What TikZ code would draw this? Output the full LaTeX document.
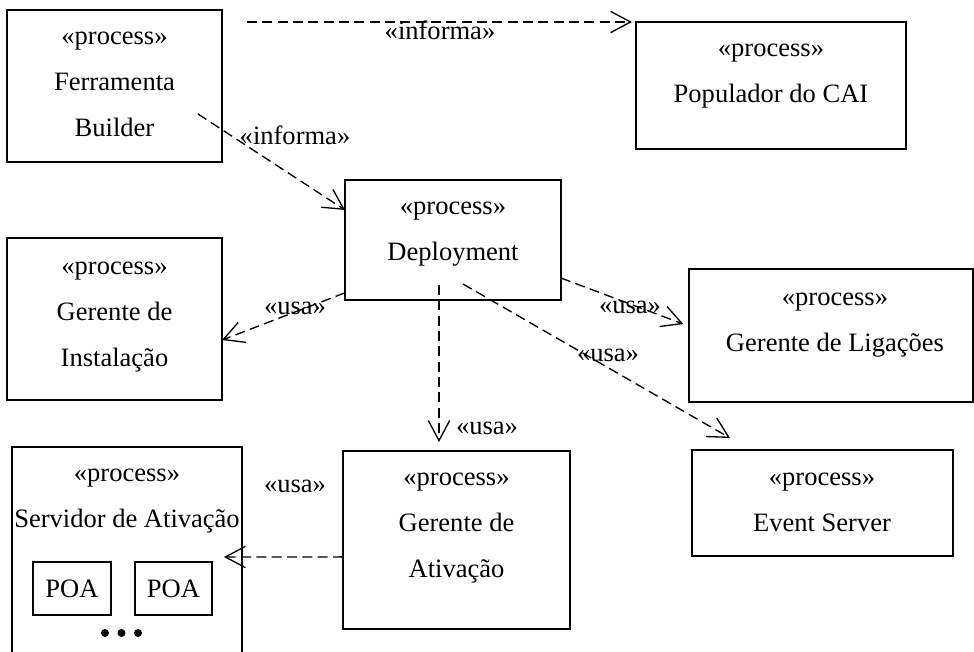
\documentclass[tikz,border=0pt]{standalone}
\usepackage{fontspec}
\setmainfont{Liberation Serif}
\usetikzlibrary{arrows.meta,calc}
\begin{document}
\begin{tikzpicture}[x=0.75pt,y=-0.75pt,
  procbox/.style={draw, line width=1.5pt, inner sep=0pt, outer sep=0pt},
  boxsize/.style 2 args={minimum width=#1*0.75pt, minimum height=#2*0.75pt},
  % multi-line texts are placed by the baseline of their last line
  proctext/.style={font=\fontsize{19.9}{34.5}\selectfont, align=center, anchor=base, inner sep=0pt},
  deplabel/.style={font=\fontsize{19.9}{24}\selectfont, anchor=base, inner sep=0pt},
  dep/.style={draw, line width=1pt, dash pattern=on 7.5pt off 4pt,
    -{Straight Barb[length=15pt,width=16pt,line width=1pt]}},
  dot/.style={circle, fill, inner sep=0pt, minimum size=6pt},
]
\useasboundingbox (0,0) rectangle (974,652);
\fill[white] (0,0) rectangle (974,652);

% process boxes
\node[procbox, boxsize={215}{152}] (builder) at (114.5,86) {};
\node[procbox, boxsize={270}{127}] (popul) at (771,85.5) {};
\node[procbox, boxsize={216}{120}] (deploy) at (453,240) {};
\node[procbox, boxsize={215}{162}] (instal) at (114.5,319) {};
\node[procbox, boxsize={284}{133}] (ligac) at (831,335.5) {};
\node[procbox, boxsize={261}{106}] (event) at (822.5,503) {};
\node[procbox, boxsize={227}{178}] (ativ) at (456.5,540) {};
\node[procbox, boxsize={230}{253}] (servidor) at (127,573.5) {};

% box contents
\node[proctext] (builderT) at (114.5,137) {«process»\\Ferramenta\\Builder};
\node[proctext] (populT) at (771,103) {«process»\\Populador do CAI};
\node[proctext] (deployT) at (453,261) {«process»\\Deployment};
\node[proctext] (instalT) at (114.5,366) {«process»\\Gerente de\\Instalação};
\node[proctext] (ligacT) at (835,351) {«process»\\Gerente de Ligações};
\node[proctext] (eventT) at (822,531) {«process»\\Event Server};
\node[proctext] (ativT) at (456.5,577) {«process»\\Gerente de\\Ativação};
\node[proctext] (servidorT) at (127,527) {«process»\\Servidor de Ativação};

% object adapters inside the activation server
\node[procbox, line width=1pt, boxsize={78}{53}, font=\fontsize{19.9}{24}\selectfont] (poa1) at (72,588.5) {POA};
\node[procbox, line width=1pt, boxsize={77}{53}, font=\fontsize{19.9}{24}\selectfont] (poa2) at (173.5,588.5) {POA};
\node[dot] (dot1) at (105,633) {};
\node[dot] (dot2) at (121.5,633) {};
\node[dot] (dot3) at (138,633) {};

% connector end points
\coordinate (infoStart) at (247,22);
\coordinate (builderOut) at (198,114);
\coordinate (deployDown) at (439,285);
\coordinate (ativIn) at (439,442);
\coordinate (deployDiag) at (463,284);
\coordinate (eventIn) at (730,438);
\coordinate (servidorIn) at (224,557);

% dependencies
\draw[dep, shorten >=3pt] (infoStart) -- (popul.north west);
\draw[dep] (builderOut) -- ($(deploy.north west)!0.25!(deploy.south west)$);
\draw[dep] ($(deploy.north west)!0.94!(deploy.south west)$) -- ($(instal.north east)!0.63!(instal.south east)$);
\draw[dep] (deployDown) -- (ativIn);
\draw[dep, shorten >=4.5pt] ($(deploy.north east)!0.817!(deploy.south east)$) -- ($(ligac.north west)!0.43!(ligac.south west)$);
\draw[dep] (deployDiag) -- (eventIn);
\draw[dep] ($(ativ.north west)!0.595!(ativ.south west)$) -- (servidorIn);

% dependency labels
\node[deplabel] (lInfo1) at (440,40) {«informa»};
\node[deplabel] (lInfo2) at (295,145) {«informa»};
\node[deplabel] (lUsa1) at (295,315) {«usa»};
\node[deplabel] (lUsa2) at (630,313) {«usa»};
\node[deplabel] (lUsa3) at (608,361) {«usa»};
\node[deplabel] (lUsa4) at (487,434) {«usa»};
\node[deplabel] (lUsa5) at (295,492) {«usa»};
\end{tikzpicture}
\end{document}
